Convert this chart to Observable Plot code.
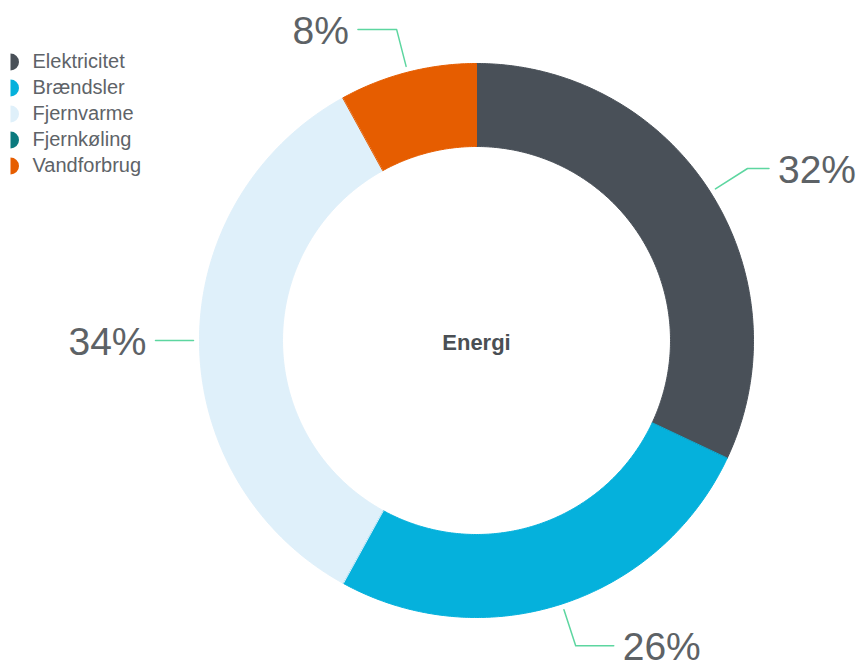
<!DOCTYPE html>
<html>
<head>
<meta charset="utf-8">
<script src="https://cdn.jsdelivr.net/npm/d3@7"></script>
<script src="https://cdn.jsdelivr.net/npm/@observablehq/plot@0.6"></script>
<style>
  html, body { margin: 0; padding: 0; background: #fff; }
  #chart svg { display: block; }
</style>
</head>
<body>
<div id="chart"></div>
<script>
// ---- data ----
const categories = ["Elektricitet", "Brændsler", "Fjernvarme", "Fjernkøling", "Vandforbrug"];
const shares = [32, 26, 34, 0, 8];
const colors = ["#495058", "#05b1dc", "#dff0fa", "#0b7a7e", "#e65d00"];
const centerLabel = "Energi";

// ---- layout (pixels relative to the ring centre) ----
const W = 862, H = 663, CX = 476, CY = 340;
const R_OUT = 277, R_IN = 194, R_LINE0 = 283, R_ELBOW = 321;

const rows = categories.map((c, i) => ({cat: c, share: shares[i]}));
const arcs = d3.pie().sort(null).value(d => d.share)(rows);

// ring polygons
const ring = [];
for (const a of arcs) {
  if (a.endAngle - a.startAngle <= 0) continue;
  const n = Math.ceil((a.endAngle - a.startAngle) / (Math.PI / 360));
  for (let i = 0; i <= n; i++) {
    const t = a.startAngle + (a.endAngle - a.startAngle) * i / n;
    ring.push({cat: a.data.cat, x: R_OUT * Math.sin(t), y: -R_OUT * Math.cos(t)});
  }
  for (let i = n; i >= 0; i--) {
    const t = a.startAngle + (a.endAngle - a.startAngle) * i / n;
    ring.push({cat: a.data.cat, x: R_IN * Math.sin(t), y: -R_IN * Math.cos(t)});
  }
}

// leader lines and labels
const leaders = [];
const labels = [];
for (const a of arcs) {
  if (a.data.share <= 0) continue;
  const m = (a.startAngle + a.endAngle) / 2;
  const s = Math.sin(m), c = Math.cos(m);
  const side = s >= 0 ? 1 : -1;
  const p1 = {x: R_LINE0 * s, y: -R_LINE0 * c};
  const p2 = {x: R_ELBOW * s, y: -R_ELBOW * c};
  const p3 = {x: p2.x + side * 40 * Math.abs(c), y: p2.y};
  for (const p of [p1, p2, p3]) leaders.push({cat: a.data.cat, ...p});
  labels.push({text: a.data.share + "%", x: p3.x + side * 9, y: p3.y + 2, anchor: side > 0 ? "start" : "end"});
}

const halfCircle = {
  draw(context, size) {
    const r = Math.sqrt(size / Math.PI);
    context.moveTo(0, -r);
    context.arc(0, 0, r, -Math.PI / 2, Math.PI / 2);
    context.closePath();
  }
};

const legendX = -CX + 10, legendTextX = -CX + 32, legendY0 = -CY + 61.5, legendStep = 26;
const pctFont = "'Liberation Sans', Arial, sans-serif";

const chart = Plot.plot({
  width: W,
  height: H,
  margin: 0,
  style: {background: "#fff"},
  x: {domain: [-CX, W - CX], range: [0, W], axis: null},
  y: {domain: [-CY, H - CY], range: [0, H], axis: null},
  color: {domain: categories, range: colors},
  marks: [
    Plot.line(ring, {x: "x", y: "y", z: "cat", fill: "cat", stroke: "cat", strokeWidth: 1, curve: "linear-closed"}),
    Plot.line(leaders, {x: "x", y: "y", z: "cat", stroke: "#5dd6a0", strokeWidth: 1.5, curve: "linear"}),
    Plot.text(labels.filter(d => d.anchor === "start"), {x: "x", y: "y", text: "text", textAnchor: "start", fontSize: 39, fontFamily: pctFont, fill: "#5d6266"}),
    Plot.text(labels.filter(d => d.anchor === "end"), {x: "x", y: "y", text: "text", textAnchor: "end", fontSize: 39, fontFamily: pctFont, fill: "#5d6266"}),
    Plot.text([centerLabel], {x: () => 0, y: () => 2, text: d => d, fontSize: 22, fontWeight: "bold", fontFamily: "'Liberation Sans', sans-serif", fill: "#4a4f54"}),
    Plot.dot(categories, {x: () => legendX, y: (d, i) => legendY0 + legendStep * i, fill: d => d, r: 8.5, symbol: halfCircle}),
    Plot.text(categories, {x: () => legendTextX, y: (d, i) => legendY0 + legendStep * i, text: d => d, textAnchor: "start", fontSize: 20, fontFamily: "'Liberation Sans', sans-serif", fill: "#5e6368"})
  ]
});
document.getElementById("chart").appendChild(chart);
</script>
</body>
</html>
